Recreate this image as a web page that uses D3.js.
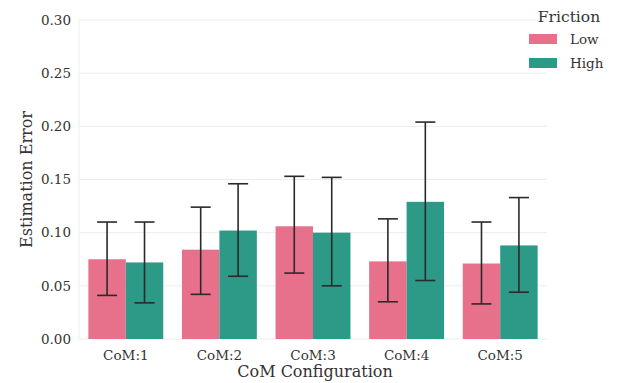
<!DOCTYPE html>
<html>
<head>
<meta charset="utf-8">
<script src="https://cdn.jsdelivr.net/npm/d3@7"></script>
<style>
  html, body { margin: 0; padding: 0; background: #fff; }
  svg text { font-family: "DejaVu Serif", serif; fill: #333; }
</style>
</head>
<body>
<svg id="chart" width="630" height="383"></svg>
<script>
// Mean estimation error per CoM configuration, with confidence-interval bounds
const categories = ["CoM:1", "CoM:2", "CoM:3", "CoM:4", "CoM:5"];
const frictionLevels = ["Low", "High"];
const lowMean  = [0.075, 0.084, 0.106, 0.073, 0.071];
const lowCiLo  = [0.041, 0.042, 0.062, 0.035, 0.033];
const lowCiHi  = [0.110, 0.124, 0.153, 0.113, 0.110];
const highMean = [0.072, 0.102, 0.100, 0.129, 0.088];
const highCiLo = [0.034, 0.059, 0.050, 0.055, 0.044];
const highCiHi = [0.110, 0.146, 0.152, 0.204, 0.133];
const yTicks = [0.00, 0.05, 0.10, 0.15, 0.20, 0.25, 0.30];
const colors = ["#e7718a", "#2c9a86"];

const series = [
  { name: frictionLevels[0], mean: lowMean, lo: lowCiLo, hi: lowCiHi },
  { name: frictionLevels[1], mean: highMean, lo: highCiLo, hi: highCiHi }
];

const svg = d3.select("#chart");
const margin = { left: 79, right: 83, top: 20, bottom: 44 };
const W = 630, H = 383;

const x = d3.scaleBand().domain(categories)
  .range([margin.left, W - margin.right]).paddingInner(0.2).paddingOuter(0.1);
const x1 = d3.scaleBand().domain(frictionLevels).range([0, x.bandwidth()]);
const y = d3.scaleLinear().domain([0, 0.30]).range([H - margin.bottom, margin.top]);

// Horizontal grid
svg.append("g").selectAll("line").data(yTicks).join("line")
  .attr("x1", margin.left).attr("x2", W - margin.right)
  .attr("y1", d => y(d)).attr("y2", d => y(d))
  .attr("stroke", "#ececec").attr("stroke-width", 1);

// Faint left spine
svg.append("line")
  .attr("x1", margin.left).attr("x2", margin.left)
  .attr("y1", y(0.30)).attr("y2", y(0))
  .attr("stroke", "#eeeeee");

// Y axis
const yAxis = svg.append("g")
  .attr("transform", `translate(${margin.left},0)`)
  .call(d3.axisLeft(y).tickValues(yTicks).tickFormat(d3.format(".2f")).tickSize(0).tickPadding(8));
yAxis.select(".domain").remove();
yAxis.selectAll("text").style("font-size", "13.5px").attr("fill", "#333");

// X axis
const xAxis = svg.append("g")
  .attr("transform", `translate(0,${H - margin.bottom})`)
  .call(d3.axisBottom(x).tickSize(0).tickPadding(11));
xAxis.select(".domain").remove();
xAxis.selectAll("text").style("font-size", "13.5px").attr("fill", "#333");

// Bars and error bars
series.forEach((s, si) => {
  const g = svg.append("g");
  g.selectAll("rect").data(categories).join("rect")
    .attr("x", c => x(c) + x1(s.name))
    .attr("width", x1.bandwidth())
    .attr("y", (c, i) => y(s.mean[i]))
    .attr("height", (c, i) => y(0) - y(s.mean[i]))
    .attr("fill", colors[si]);

  const cap = 10;
  const eg = g.selectAll("g.err").data(categories).join("g").attr("class", "err");
  const cx = c => x(c) + x1(s.name) + x1.bandwidth() / 2;
  eg.append("line")
    .attr("x1", cx).attr("x2", cx)
    .attr("y1", (c, i) => y(s.lo[i])).attr("y2", (c, i) => y(s.hi[i]));
  eg.append("line")
    .attr("x1", c => cx(c) - cap).attr("x2", c => cx(c) + cap)
    .attr("y1", (c, i) => y(s.hi[i])).attr("y2", (c, i) => y(s.hi[i]));
  eg.append("line")
    .attr("x1", c => cx(c) - cap).attr("x2", c => cx(c) + cap)
    .attr("y1", (c, i) => y(s.lo[i])).attr("y2", (c, i) => y(s.lo[i]));
  eg.selectAll("line").attr("stroke", "#2a2a2a").attr("stroke-width", 1.6);
});

// Axis titles
svg.append("text")
  .attr("x", (x.range()[0] + x.range()[1]) / 2 + 2).attr("y", 377)
  .attr("text-anchor", "middle").style("font-size", "16px")
  .text("CoM Configuration");
svg.append("text")
  .attr("transform", `translate(32,${(y(0) + y(0.30)) / 2}) rotate(-90)`)
  .attr("text-anchor", "middle").style("font-size", "16px")
  .text("Estimation Error");

// Legend
const lg = svg.append("g").attr("transform", "translate(529,0)");
lg.append("text").attr("x", 40).attr("y", 22).attr("text-anchor", "middle")
  .style("font-size", "15.5px").text("Friction");
frictionLevels.forEach((name, i) => {
  const yy = 39 + i * 24;
  lg.append("rect").attr("x", 0).attr("y", yy - 5).attr("width", 28).attr("height", 10)
    .attr("fill", colors[i]);
  lg.append("text").attr("x", 41).attr("y", yy + 5)
    .style("font-size", "13.5px").text(name);
});
</script>
</body>
</html>
